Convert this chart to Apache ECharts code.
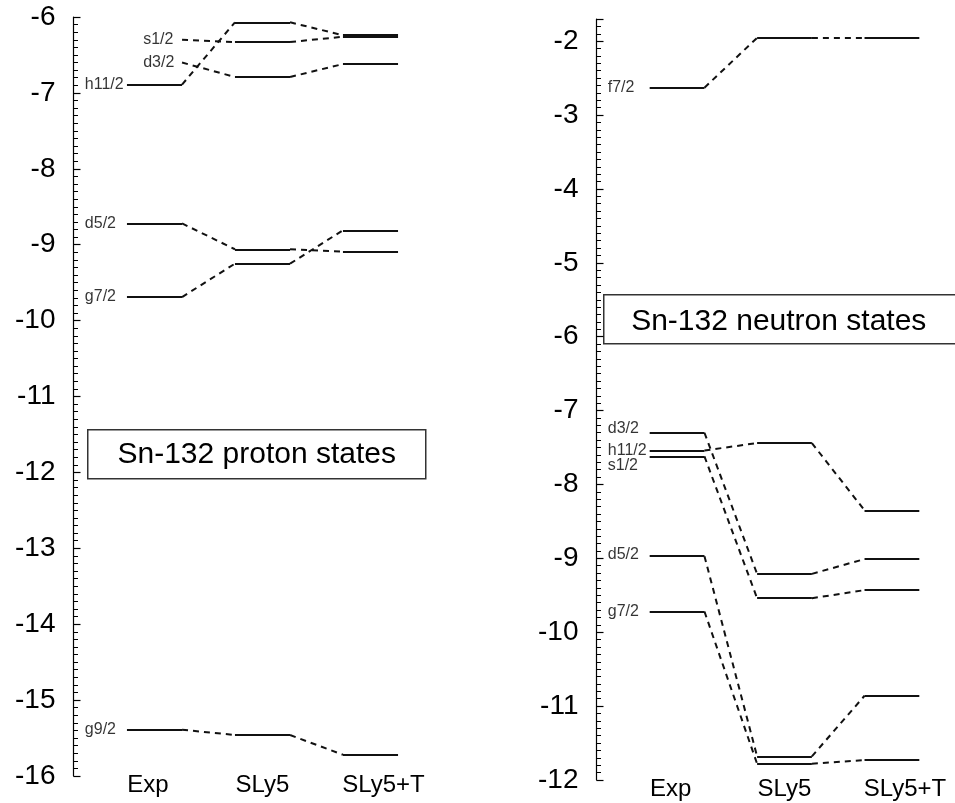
<!DOCTYPE html>
<html>
<head>
<meta charset="utf-8">
<script src="https://cdn.jsdelivr.net/npm/echarts@6/dist/echarts.min.js"></script>
<style>
  html, body { margin: 0; padding: 0; background: #fff; }
  #chart { width: 955px; height: 803px; }
</style>
</head>
<body>
<div id="chart"></div>
<script>
// single particle levels (MeV)
var methods = ['Exp', 'SLy5', 'SLy5+T'];

var protonStates = ['h11/2', 's1/2', 'd3/2', 'd5/2', 'g7/2', 'g9/2'];
var protonExp    = [-6.89, -6.30, -6.60, -8.72, -9.69, -15.39];
var protonSLy5   = [-6.07, -6.33, -6.79, -9.06, -9.25, -15.46];
var protonSLy5T  = [-6.24, -6.26, -6.62, -9.09, -8.81, -15.72];
var protonNoExp  = ['s1/2', 'd3/2'];   // no measured level drawn

var neutronStates = ['f7/2', 'd3/2', 'h11/2', 's1/2', 'd5/2', 'g7/2'];
var neutronExp    = [-2.63, -7.30, -7.54, -7.62, -8.97, -9.72];
var neutronSLy5   = [-1.955, -9.21, -7.44, -9.54, -11.68, -11.78];
var neutronSLy5T  = [-1.955, -9.01, -8.35, -9.43, -10.86, -11.73];

var HALF = 0.255;
var FONT = 'Liberation Sans, Arial, sans-serif';
var INK = '#111';

// small vertical nudges of the level names (px)
var labelNudge = { 'neutron:d3/2': -4, 'neutron:s1/2': 9, 'neutron:d5/2': -2 };

function levelSegments(states, cols, noExp) {
  var segs = [];
  states.forEach(function (name, s) {
    cols.forEach(function (col, m) {
      if (m === 0 && noExp.indexOf(name) >= 0) return;
      segs.push({ coords: [[m - HALF, col[s]], [m + HALF, col[s]]] });
    });
  });
  return segs;
}

function connectorSegments(states, cols) {
  var segs = [];
  states.forEach(function (name, s) {
    for (var m = 0; m < cols.length - 1; m++) {
      segs.push({ coords: [[m + HALF, cols[m][s]], [m + 1 - HALF, cols[m + 1][s]]] });
    }
  });
  return segs;
}

function nameLabels(panel, states, exp, noExp) {
  return states.map(function (name, s) {
    var x = noExp.indexOf(name) >= 0 ? -0.105 : -0.645;
    return {
      name: name,
      value: [x, exp[s]],
      label: { offset: [0, labelNudge[panel + ':' + name] || 0] }
    };
  });
}

function xAxisFor(gridIndex, max) {
  return {
    type: 'value', gridIndex: gridIndex, min: -0.75, max: max, interval: 0.25,
    axisLine: { show: false, onZero: false }, axisTick: { show: false }, splitLine: { show: false },
    axisLabel: {
      margin: 9, verticalAlign: 'middle', color: '#000', fontFamily: FONT, fontSize: 24,
      formatter: function (v) {
        if (Math.abs(v - Math.round(v)) > 1e-6) return '';
        var i = Math.round(v);
        if (i === 0) return '{l|' + methods[0] + '}';
        if (i === 2) return '{r|' + methods[2] + '}';
        return methods[i] || '';
      },
      rich: {
        l: { fontFamily: FONT, fontSize: 24, color: '#000', padding: [0, 13, 0, 0] },
        r: { fontFamily: FONT, fontSize: 24, color: '#000', padding: [0, 0, 0, 26] }
      }
    }
  };
}

function yAxisFor(gridIndex, min, max) {
  return {
    type: 'value', gridIndex: gridIndex, min: min, max: max, interval: 1,
    axisLine: { show: true, onZero: false, lineStyle: { color: '#000', width: 1.2 } },
    axisTick: { show: true, inside: true, length: 7, lineStyle: { color: '#000', width: 1.2 } },
    minorTick: { show: true, splitNumber: 10, length: 4.5, lineStyle: { color: '#000', width: 1 } },
    splitLine: { show: false },
    axisLabel: {
      margin: 18, color: '#000', fontFamily: FONT, fontSize: 28, padding: [7, 0, 0, 0],
      formatter: function (v) {
        return Math.abs(v - Math.round(v)) < 1e-6 ? String(Math.round(v)) : '';
      }
    }
  };
}

function panelSeries(panel, idx, states, cols, noExp) {
  return [
    {
      type: 'lines', coordinateSystem: 'cartesian2d', xAxisIndex: idx, yAxisIndex: idx,
      silent: true, lineStyle: { color: INK, width: 2, type: 'solid', opacity: 1 },
      data: levelSegments(states, cols, noExp)
    },
    {
      type: 'lines', coordinateSystem: 'cartesian2d', xAxisIndex: idx, yAxisIndex: idx,
      silent: true, lineStyle: { color: INK, width: 2, type: [6, 5], opacity: 1 },
      data: connectorSegments(states, cols)
    },
    {
      type: 'scatter', xAxisIndex: idx, yAxisIndex: idx, symbolSize: 0, silent: true,
      label: {
        show: true, position: 'right', distance: 0, color: '#000',
        fontFamily: FONT, fontSize: 16,
        formatter: function (p) { return p.name; }
      },
      data: nameLabels(panel, states, cols[0], noExp)
    }
  ];
}

var chart = echarts.init(document.getElementById('chart'));

var option = {
  animation: false,
  backgroundColor: '#fff',
  grid: [
    { left: 73.5, top: 17, width: 378, bottom: 27 },
    { left: 596.5, top: 19, width: 354.5, bottom: 23 }
  ],
  xAxis: [xAxisFor(0, 2.75), xAxisFor(1, 2.55)],
  yAxis: [yAxisFor(0, -16, -6), yAxisFor(1, -12, -1.7)],
  series: []
    .concat(panelSeries('proton', 0, protonStates, [protonExp, protonSLy5, protonSLy5T], protonNoExp))
    .concat(panelSeries('neutron', 1, neutronStates, [neutronExp, neutronSLy5, neutronSLy5T], [])),
  graphic: [
    {
      type: 'group', left: 87, top: 429,
      children: [
        { type: 'rect', shape: { x: 0, y: 0, width: 338, height: 49 },
          style: { fill: '#fff', stroke: '#333', lineWidth: 1.5 } },
        { type: 'text', x: 169, y: 25,
          style: { text: 'Sn-132 proton states', fontFamily: FONT, fontSize: 30,
                   fill: '#000', align: 'center', verticalAlign: 'middle' } }
      ]
    },
    {
      type: 'group', left: 603, top: 294,
      children: [
        { type: 'rect', shape: { x: 0, y: 0, width: 360, height: 49 },
          style: { fill: '#fff', stroke: '#333', lineWidth: 1.5 } },
        { type: 'text', x: 175, y: 27,
          style: { text: 'Sn-132 neutron states', fontFamily: FONT, fontSize: 30,
                   fill: '#000', align: 'center', verticalAlign: 'middle' } }
      ]
    }
  ]
};

chart.setOption(option);
</script>
</body>
</html>
